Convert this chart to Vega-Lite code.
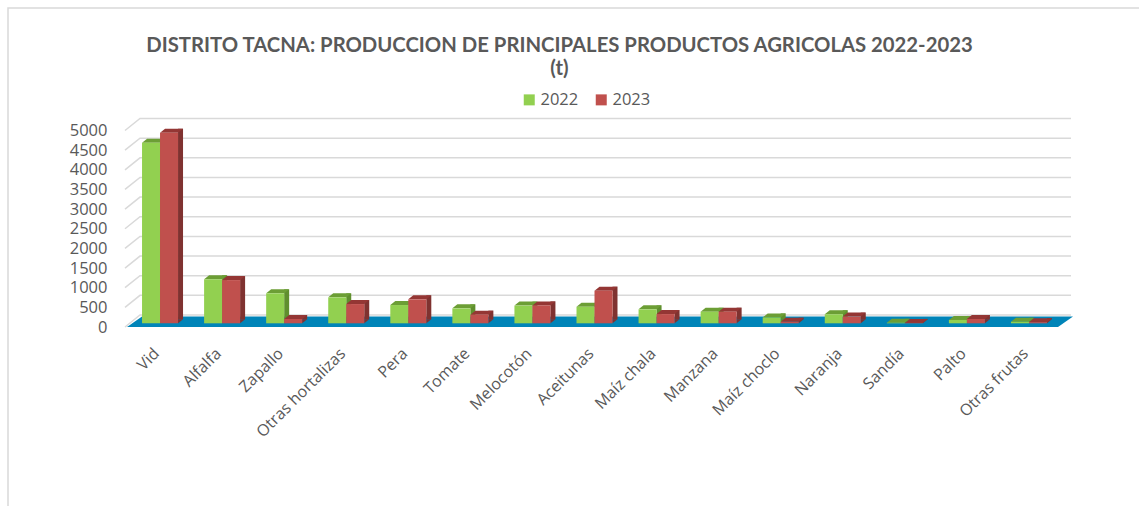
{
"$schema":"https://vega.github.io/schema/vega-lite/v6.json",
"width":931,"height":196.5,
"autosize":"none",
"padding":{"left":127,"top":130.5,"right":81,"bottom":179.5},
"background":"white",
"title":{"text":["DISTRITO TACNA: PRODUCCION DE PRINCIPALES PRODUCTOS AGRICOLAS 2022-2023","(t)"],"font":"Lato","fontSize":20.3,"fontWeight":"bold","color":"#595959","anchor":"middle","dx":-33,"offset":-74,"lineHeight":23},
"config":{"view":{"stroke":null},"axis":{"labelFont":"Open Sans","labelColor":"#595959","titleFont":"Open Sans"}},
"datasets":{
"bars":[
{"producto":"Vid","anio":"2022","t":4595},{"producto":"Vid","anio":"2023","t":4850},
{"producto":"Alfalfa","anio":"2022","t":1120},{"producto":"Alfalfa","anio":"2023","t":1100},
{"producto":"Zapallo","anio":"2022","t":763},{"producto":"Zapallo","anio":"2023","t":110},
{"producto":"Otras hortalizas","anio":"2022","t":660},{"producto":"Otras hortalizas","anio":"2023","t":490},
{"producto":"Pera","anio":"2022","t":465},{"producto":"Pera","anio":"2023","t":610},
{"producto":"Tomate","anio":"2022","t":380},{"producto":"Tomate","anio":"2023","t":220},
{"producto":"Melocotón","anio":"2022","t":450},{"producto":"Melocotón","anio":"2023","t":455},
{"producto":"Aceitunas","anio":"2022","t":420},{"producto":"Aceitunas","anio":"2023","t":830},
{"producto":"Maíz chala","anio":"2022","t":355},{"producto":"Maíz chala","anio":"2023","t":235},
{"producto":"Manzana","anio":"2022","t":295},{"producto":"Manzana","anio":"2023","t":295},
{"producto":"Maíz choclo","anio":"2022","t":150},{"producto":"Maíz choclo","anio":"2023","t":40},
{"producto":"Naranja","anio":"2022","t":230},{"producto":"Naranja","anio":"2023","t":170},
{"producto":"Sandía","anio":"2022","t":15},{"producto":"Sandía","anio":"2023","t":10},
{"producto":"Palto","anio":"2022","t":85},{"producto":"Palto","anio":"2023","t":110},
{"producto":"Otras frutas","anio":"2022","t":40},{"producto":"Otras frutas","anio":"2023","t":30}
],
"floor":[{"u":0,"lo":0,"hi":0},{"u":15,"lo":0,"hi":267},{"u":931,"lo":0,"hi":267},{"u":946,"lo":267,"hi":267}],
"frame":[{"n":1,"u":1012,"v":8117},{"n":2,"u":-119,"v":8117},{"n":3,"u":-119,"v":-4555}],
"grid":[
{"g":0,"u":-2,"v":0},{"g":0,"u":13,"v":305},{"g":0,"u":944,"v":305},
{"g":500,"u":-2,"v":500},{"g":500,"u":13,"v":805},{"g":500,"u":944,"v":805},
{"g":1000,"u":-2,"v":1000},{"g":1000,"u":13,"v":1305},{"g":1000,"u":944,"v":1305},
{"g":1500,"u":-2,"v":1500},{"g":1500,"u":13,"v":1805},{"g":1500,"u":944,"v":1805},
{"g":2000,"u":-2,"v":2000},{"g":2000,"u":13,"v":2305},{"g":2000,"u":944,"v":2305},
{"g":2500,"u":-2,"v":2500},{"g":2500,"u":13,"v":2805},{"g":2500,"u":944,"v":2805},
{"g":3000,"u":-2,"v":3000},{"g":3000,"u":13,"v":3305},{"g":3000,"u":944,"v":3305},
{"g":3500,"u":-2,"v":3500},{"g":3500,"u":13,"v":3805},{"g":3500,"u":944,"v":3805},
{"g":4000,"u":-2,"v":4000},{"g":4000,"u":13,"v":4305},{"g":4000,"u":944,"v":4305},
{"g":4500,"u":-2,"v":4500},{"g":4500,"u":13,"v":4805},{"g":4500,"u":944,"v":4805},
{"g":5000,"u":-2,"v":5000},{"g":5000,"u":13,"v":5305},{"g":5000,"u":944,"v":5305}
]
},
"resolve":{"scale":{"x":"independent","y":"independent","color":"independent"},"axis":{"x":"independent","y":"independent"}},
"layer":[
{"data":{"name":"frame"},"mark":{"type":"line","color":"#D9D9D9","strokeWidth":1.5},
 "encoding":{"x":{"field":"u","type":"quantitative","scale":{"domain":[0,931]},"axis":null},"y":{"field":"v","type":"quantitative","scale":{"domain":[0,5000]},"axis":null},"order":{"field":"n"}}},
{"data":{"name":"grid"},"mark":{"type":"line","color":"#D9D9D9","strokeWidth":1.5},
 "encoding":{"x":{"field":"u","type":"quantitative","scale":{"domain":[0,931]},"axis":null},"y":{"field":"v","type":"quantitative","scale":{"domain":[0,5000]},"axis":{"values":[0,500,1000,1500,2000,2500,3000,3500,4000,4500,5000],"format":"d","labelOverlap":false,"labelFontSize":16.5,"labelPadding":20,"ticks":false,"domain":false,"grid":false,"title":null}},"detail":{"field":"g"}}},
{"data":{"name":"floor"},"mark":{"type":"area","color":"#0084B8"},
 "encoding":{"x":{"field":"u","type":"quantitative","scale":{"domain":[0,931]},"axis":null},"y":{"field":"lo","type":"quantitative","scale":{"domain":[0,5000]},"axis":null},"y2":{"field":"hi"}}},
{"data":{"name":"bars"},"mark":{"type":"bar","width":5},
 "encoding":{"x":{"field":"producto","type":"nominal","sort":null,"scale":{"paddingInner":0.42,"paddingOuter":0.21,"range":[13.5,944.5]},"axis":null},"xOffset":{"field":"anio","type":"nominal"},"y":{"field":"t","type":"quantitative","scale":{"domain":[-196,4804]},"stack":null,"axis":null},"color":{"field":"anio","type":"nominal","scale":{"range":["#5F8F2E","#7F3230"]},"legend":null}}},
{"data":{"name":"bars"},"mark":{"type":"point","filled":true,"opacity":1,"size":4,"shape":"M9,0L9,-4L14,-4Z"},
 "encoding":{"x":{"field":"producto","type":"nominal","sort":null,"scale":{"paddingInner":0.42,"paddingOuter":0.21,"range":[2,933]},"axis":null},"xOffset":{"field":"anio","type":"nominal"},"y":{"datum":0,"type":"quantitative","scale":{"domain":[-94,4906]},"axis":null},"color":{"field":"anio","type":"nominal","scale":{"range":["#5F8F2E","#7F3230"]},"legend":null}}},
{"data":{"name":"bars"},"mark":{"type":"point","filled":true,"opacity":1,"size":4,"shape":"M-9,0L9,0L14,-4L-4,-4Z"},
 "encoding":{"x":{"field":"producto","type":"nominal","sort":null,"scale":{"paddingInner":0.42,"paddingOuter":0.21,"range":[2,933]},"axis":null},"xOffset":{"field":"anio","type":"nominal"},"y":{"field":"t","type":"quantitative","scale":{"domain":[-94,4906]},"axis":null},"color":{"field":"anio","type":"nominal","scale":{"range":["#6C9E35","#943634"]},"legend":null}}},
{"data":{"name":"bars"},"mark":{"type":"bar"},
 "encoding":{"x":{"field":"producto","type":"nominal","sort":null,"scale":{"paddingInner":0.42,"paddingOuter":0.21,"range":[2,933]},"axis":{"labelAngle":-45,"labelFontSize":16,"labelPadding":18,"labelOffset":-9,"ticks":false,"domain":false,"title":null}},"xOffset":{"field":"anio","type":"nominal"},"y":{"field":"t","type":"quantitative","scale":{"domain":[-94,4906]},"stack":null,"axis":null},"color":{"field":"anio","type":"nominal","scale":{"range":["#92D050","#C0504D"]},"legend":{"title":null,"orient":"none","legendX":394,"legendY":-39,"direction":"horizontal","symbolType":"square","symbolSize":121,"symbolStrokeWidth":0,"labelFont":"Open Sans","labelFontSize":16.5,"labelColor":"#595959","labelOffset":3,"columnPadding":14}}}}
]
}
